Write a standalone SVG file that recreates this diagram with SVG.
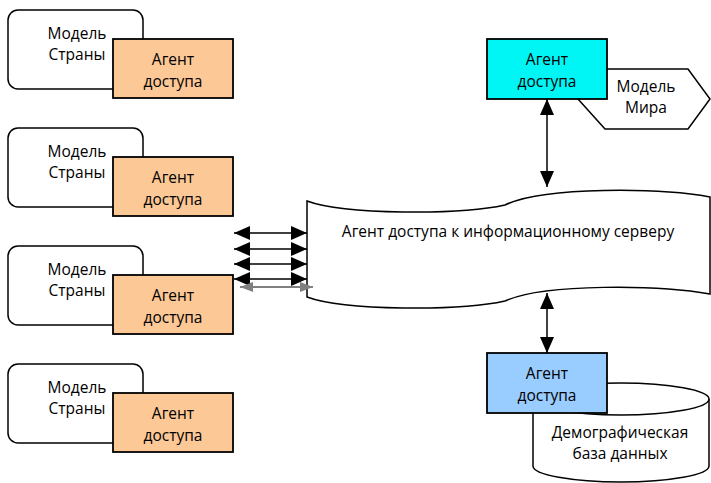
<svg xmlns="http://www.w3.org/2000/svg" width="711" height="483" viewBox="0 0 711 483">
<style>
text{font-family:"Open Sans","Liberation Sans",sans-serif;font-size:15.5px;fill:#000;text-anchor:middle}
.model{fill:#fff;stroke:#000;stroke-width:1.5}
.agent{fill:#fcc896;stroke:#000;stroke-width:1.8}
.shape{fill:#fff;stroke:#000;stroke-width:1.5}
.conn{stroke:#000;stroke-width:1.5;fill:none}
.gray{stroke:#808080;stroke-width:2;fill:none}
</style>
<defs>
<marker id="ah" viewBox="0 0 16 14" refX="16" refY="7" markerWidth="16" markerHeight="14" markerUnits="userSpaceOnUse" orient="auto-start-reverse"><path d="M0,0 L16,7 L0,14 z" fill="#000"/></marker>
<marker id="ahg" viewBox="0 0 13 10" refX="13" refY="5" markerWidth="13" markerHeight="10" markerUnits="userSpaceOnUse" orient="auto-start-reverse"><path d="M0,0 L13,5 L0,10 z" fill="#808080"/></marker>
</defs>

<g id="country1">
<rect class="model" x="8" y="10" width="135" height="79" rx="10"/>
<text x="77" y="39">Модель</text><text x="77" y="60">Страны</text>
<rect class="agent" x="113" y="39" width="120" height="59"/>
<text x="173" y="65">Агент</text><text x="173" y="87">доступа</text>
</g>
<g id="country2" transform="translate(0,118)">
<rect class="model" x="8" y="10" width="135" height="79" rx="10"/>
<text x="77" y="39">Модель</text><text x="77" y="60">Страны</text>
<rect class="agent" x="113" y="39" width="120" height="59"/>
<text x="173" y="65">Агент</text><text x="173" y="87">доступа</text>
</g>
<g id="country3" transform="translate(0,236)">
<rect class="model" x="8" y="10" width="135" height="79" rx="10"/>
<text x="77" y="39">Модель</text><text x="77" y="60">Страны</text>
<rect class="agent" x="113" y="39" width="120" height="59"/>
<text x="173" y="65">Агент</text><text x="173" y="87">доступа</text>
</g>
<g id="country4" transform="translate(0,354)">
<rect class="model" x="8" y="10" width="135" height="79" rx="10"/>
<text x="77" y="39">Модель</text><text x="77" y="60">Страны</text>
<rect class="agent" x="113" y="39" width="120" height="59"/>
<text x="173" y="65">Агент</text><text x="173" y="87">доступа</text>
</g>

<g id="server">
<path class="shape" d="M307,201 C345,215 460,215 505,205 C545,186 660,188 710,197 L710,294 C660,285 545,283 505,301 C460,311 345,311 307,297 Z"/>
<text x="508" y="237">Агент доступа к информационному серверу</text>
</g>

<g id="world">
<polygon class="shape" points="578,99 605,69 688,69 710,99 688,129 605,129"/>
<text x="646" y="92">Модель</text><text x="646" y="113">Мира</text>
<rect x="487" y="39" width="120" height="60" fill="#00f5f5" stroke="#000" stroke-width="1.8"/>
<text x="547" y="65">Агент</text><text x="547" y="87">доступа</text>
</g>

<g id="demography">
<path class="shape" d="M533,399 L533,466 A88,16 0 0 0 709,466 L709,399 A88,16 0 0 0 533,399 Z"/>
<path class="shape" d="M533,399 A88,16 0 0 0 709,399"/>
<rect x="487" y="353" width="120" height="60" fill="#99ccff" stroke="#000" stroke-width="1.8"/>
<text x="547" y="379">Агент</text><text x="547" y="401">доступа</text>
<text x="620" y="438">Демографическая</text><text x="620" y="459">база данных</text>
</g>

<g id="connectors">
<line class="conn" x1="234" y1="233" x2="307" y2="233" marker-start="url(#ah)" marker-end="url(#ah)"/>
<line class="conn" x1="234" y1="249" x2="307" y2="249" marker-start="url(#ah)" marker-end="url(#ah)"/>
<line class="conn" x1="234" y1="264" x2="307" y2="264" marker-start="url(#ah)" marker-end="url(#ah)"/>
<line class="conn" x1="234" y1="279" x2="307" y2="279" marker-start="url(#ah)" marker-end="url(#ah)"/>
<line class="gray" x1="240" y1="287" x2="313" y2="287" marker-start="url(#ahg)" marker-end="url(#ahg)"/>
<line class="conn" x1="547" y1="99" x2="547" y2="187" marker-start="url(#ah)" marker-end="url(#ah)"/>
<line class="conn" x1="547" y1="293" x2="547" y2="353" marker-start="url(#ah)" marker-end="url(#ah)"/>
</g>
</svg>
